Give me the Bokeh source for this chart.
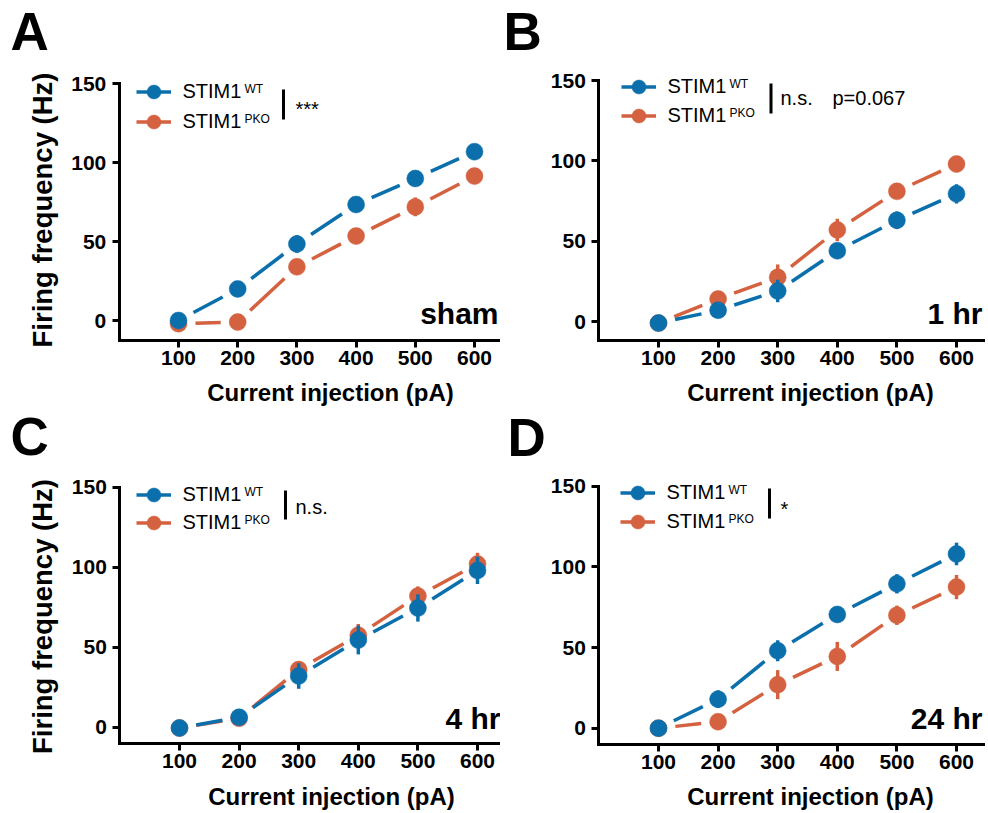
import math
from bokeh.plotting import figure
from bokeh.layouts import column, row
from bokeh.models import Label, Legend, LegendItem, BoxAnnotation, FixedTicker, Range1d
from bokeh.embed import file_html
from bokeh.resources import INLINE

# ---------------- data ----------------
current_pa = [100, 200, 300, 400, 500, 600]
x_ticks = [100, 200, 300, 400, 500, 600]
y_ticks = [0, 50, 100, 150]

sham_wt = [0, 20, 48.5, 73.5, 90, 107]
sham_wt_err = [1, 5, 5.5, 3, 3, 3]
sham_pko = [-2, -1, 34, 53.5, 72, 91.5]
sham_pko_err = [1, 1, 3, 3, 6, 3]

hr1_wt = [-1, 7, 19, 44, 63, 79.5]
hr1_wt_err = [1, 2, 7, 3, 5.5, 6]
hr1_pko = [-1, 14, 27.5, 57, 81, 98]
hr1_pko_err = [1, 4.5, 8, 7, 3, 3]

hr4_wt = [-0.5, 6.2, 32, 54.5, 74.5, 98]
hr4_wt_err = [1, 2, 8, 9, 8.5, 8.5]
hr4_pko = [-0.5, 5.6, 36, 57.5, 82, 102]
hr4_pko_err = [1, 2, 5, 7, 6, 7]

hr24_wt = [0, 18, 48, 70.5, 89.5, 108]
hr24_wt_err = [1, 5.5, 6.5, 4.5, 6, 7]
hr24_pko = [0, 4, 27, 44.5, 70, 87.5]
hr24_pko_err = [1, 2, 9, 9, 6, 7.5]

series_names = ["STIM1", "STIM1"]
series_sup = ["WT", "PKO"]
panel_letters = ["A", "B", "C", "D"]
conditions = ["sham", "1 hr", "4 hr", "24 hr"]
significance = ["***", "n.s.", "n.s.", "*"]
p_values = ["", "p=0.067", "", ""]
x_title = "Current injection (pA)"
y_title = "Firing frequency (Hz)"

BLUE = "#0b6fac"
ORANGE = "#d4613f"
FONT = "Liberation Sans"
BASE_SHIFT = 0.35  # empirical correction of label baseline (fraction of font size)

# ---------------- layout (page pixels) ----------------
geo = [
    dict(fig=(0, 0, 500, 406), x100=178, x600=474, y0px=320, y150px=83.3, ax_bottom=340, ax_right=500,
         leg_x=153, rows=(90.5, 120), txt_x=183, bar=(283, 89, 119), sig=(295, 115),
         pval=None, letter=(10, 50), cond=(498, 323), xt=(330, 400), yt=(51.5, 209.5)),
    dict(fig=(500, 0, 487, 406), x100=658, x600=956, y0px=321, y150px=80, ax_bottom=340, ax_right=983,
         leg_x=638, rows=(85.5, 114), txt_x=668, bar=(770.5, 83, 113), sig=(780, 104),
         pval=(832, 104), letter=(503, 50), cond=(982, 323), xt=(810, 400), yt=None),
    dict(fig=(0, 406, 500, 406), x100=179, x600=477, y0px=726.7, y150px=486.7, ax_bottom=743, ax_right=500,
         leg_x=153, rows=(493, 521.5), txt_x=183, bar=(285, 490, 519), sig=(295, 513),
         pval=None, letter=(10, 455), cond=(500, 728), xt=(331, 804), yt=(51.5, 616)),
    dict(fig=(500, 406, 487, 406), x100=658, x600=956, y0px=727.7, y150px=485.7, ax_bottom=744, ax_right=983,
         leg_x=637, rows=(491, 520), txt_x=667, bar=(769, 488, 518), sig=(780, 515),
         pval=None, letter=(507, 456), cond=(982, 728), xt=(810, 804), yt=None),
]

data = [
    (sham_wt, sham_wt_err, sham_pko, sham_pko_err),
    (hr1_wt, hr1_wt_err, hr1_pko, hr1_pko_err),
    (hr4_wt, hr4_wt_err, hr4_pko, hr4_pko_err),
    (hr24_wt, hr24_wt_err, hr24_pko, hr24_pko_err),
]


def trimmed_segments(xs, ys, sx, sy, gap_px=17):
    x0s, y0s, x1s, y1s = [], [], [], []
    for i in range(len(xs) - 1):
        dx = xs[i + 1] - xs[i]
        dy = ys[i + 1] - ys[i]
        L = math.hypot(dx * sx, dy * sy)
        f = gap_px / L if L > 0 else 0
        x0s.append(xs[i] + f * dx)
        y0s.append(ys[i] + f * dy)
        x1s.append(xs[i + 1] - f * dx)
        y1s.append(ys[i + 1] - f * dy)
    return x0s, y0s, x1s, y1s


def make_panel(k):
    g = geo[k]
    wt, wt_err, pko, pko_err = data[k]
    fl, ft, fw, fh = g["fig"]

    # pixel scales
    sx = (g["x600"] - g["x100"]) / 500.0
    sy = (g["y0px"] - g["y150px"]) / 150.0
    ax_left_px = g["x100"] - 100 * sx
    x_axis_end = (g["ax_right"] - ax_left_px) / sx
    y_axis_start = -(g["ax_bottom"] - g["y0px"]) / sy
    # full-figure data ranges
    x_start = (fl - ax_left_px) / sx
    x_end = (fl + fw - ax_left_px) / sx
    y_end = (g["y0px"] - ft) / sy
    y_start = (g["y0px"] - (ft + fh)) / sy

    p = figure(frame_width=fw, frame_height=fh,
               min_border_left=0, min_border_right=0, min_border_top=0, min_border_bottom=0,
               x_range=Range1d(x_start, x_end), y_range=Range1d(y_start, y_end),
               output_backend="svg", toolbar_location=None, tools="")
    p.title.visible = False
    p.outline_line_color = None
    p.grid.visible = False
    p.background_fill_color = "white"
    p.border_fill_color = "white"

    xa = p.xaxis[0]
    ya = p.yaxis[0]
    xa.fixed_location = y_axis_start
    ya.fixed_location = 0
    xa.bounds = (0, x_axis_end)
    ya.bounds = (y_axis_start, 150)
    for ax in (xa, ya):
        ax.axis_line_width = 3
        ax.axis_line_color = "black"
        ax.axis_line_cap = "square"
        ax.major_tick_line_width = 3
        ax.major_tick_line_color = "black"
        ax.major_tick_out = 7
        ax.major_tick_in = 0
        ax.minor_tick_line_color = None
        ax.major_label_text_font = FONT
        ax.major_label_text_font_style = "bold"
        ax.major_label_text_font_size = "21px"
        ax.major_label_text_color = "black"
    xa.ticker = FixedTicker(ticks=x_ticks)
    ya.ticker = FixedTicker(ticks=y_ticks)
    xa.major_label_standoff = 3
    ya.major_label_standoff = 6

    renderers = []
    for ys, errs, col in ((pko, pko_err, ORANGE), (wt, wt_err, BLUE)):
        lo = [y - e for y, e in zip(ys, errs)]
        hi = [y + e for y, e in zip(ys, errs)]
        p.segment(current_pa, lo, current_pa, hi, line_color=col, line_width=3.5)
        x0s, y0s, x1s, y1s = trimmed_segments(current_pa, ys, sx, sy)
        seg = p.segment(x0s, y0s, x1s, y1s, line_color=col, line_width=3.5)
        sc = p.scatter(current_pa, ys, size=17, fill_color=col, line_color=col, line_width=0.5)
        renderers.append((seg, sc))
    renderers = renderers[::-1]  # WT first

    def scr_x(px):
        return px - fl

    def scr_y(py):
        return fh - (py - ft)

    def text_label(px, py, text, size, bold=False, align="left"):
        return Label(x=scr_x(px), y=scr_y(py - BASE_SHIFT * size), x_units="screen", y_units="screen",
                     text=text, text_font=FONT, text_font_style="bold" if bold else "normal",
                     text_font_size=f"{size}px", text_color="black",
                     text_align=align, text_baseline="alphabetic")

    # y axis title (rotated, reads bottom to top)
    if g["yt"]:
        ysz = 27.5
        p.add_layout(Label(x=scr_x(g["yt"][0] - BASE_SHIFT * ysz), y=scr_y(g["yt"][1]),
                           x_units="screen", y_units="screen", angle=math.pi / 2,
                           text=y_title, text_font=FONT, text_font_style="bold",
                           text_font_size=f"{ysz}px", text_color="black",
                           text_align="center", text_baseline="alphabetic"))

    # legend: one legend object per row so rows sit exactly
    gw = 35
    for i in range(2):
        rc = g["rows"][i]
        leg = Legend(items=[LegendItem(label=series_names[i], renderers=list(renderers[i]))],
                     location=(scr_x(g["leg_x"] - gw / 2), scr_y(rc + 1 + gw / 2)),
                     padding=0, margin=0, spacing=0, glyph_width=gw, glyph_height=gw,
                     label_standoff=int(round(g["txt_x"] - (g["leg_x"] + gw / 2))),
                     label_text_font=FONT, label_text_font_size="20px", label_text_color="black",
                     background_fill_alpha=0, border_line_alpha=0)
        p.add_layout(leg)
        p.add_layout(text_label(g["txt_x"] + 61, rc + 2.5, series_sup[i], 12))

    # significance bar and text
    bxp, btop, bbot = g["bar"]
    p.add_layout(BoxAnnotation(left=scr_x(bxp - 1.5), right=scr_x(bxp + 1.5),
                               top=scr_y(btop), bottom=scr_y(bbot),
                               left_units="screen", right_units="screen",
                               top_units="screen", bottom_units="screen",
                               fill_color="black", fill_alpha=1, line_alpha=0))
    p.add_layout(text_label(g["sig"][0], g["sig"][1], significance[k], 20))
    if g["pval"]:
        p.add_layout(text_label(g["pval"][0], g["pval"][1], p_values[k], 20))

    # condition label, panel letter, x axis title
    p.add_layout(text_label(g["cond"][0], g["cond"][1], conditions[k], 30, bold=True, align="right"))
    p.add_layout(text_label(g["letter"][0], g["letter"][1], panel_letters[k], 53, bold=True))
    p.add_layout(text_label(g["xt"][0], g["xt"][1], x_title, 24, bold=True, align="center"))
    return p


panels = [make_panel(k) for k in range(4)]
layout = column(row(panels[0], panels[1], spacing=0), row(panels[2], panels[3], spacing=0), spacing=0)

open("out.html", "w").write(file_html(layout, INLINE))
